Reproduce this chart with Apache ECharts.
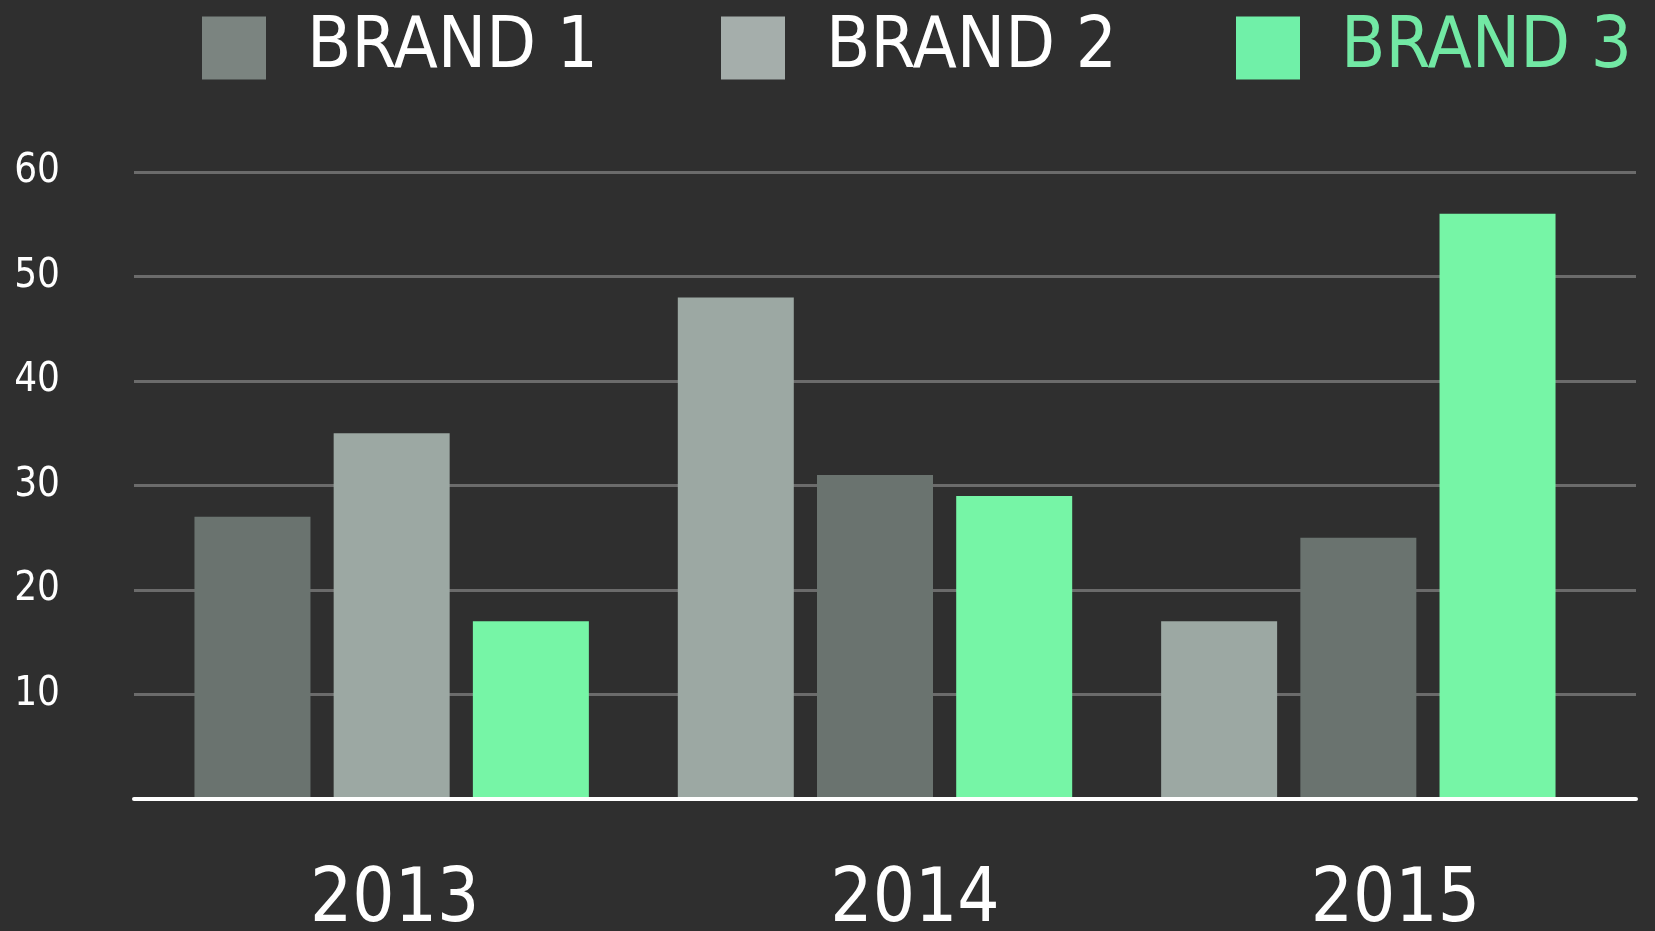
<!DOCTYPE html>
<html>
<head>
<meta charset="utf-8">
<script src="https://cdn.jsdelivr.net/npm/echarts@6/dist/echarts.min.js"></script>
<style>
html,body{margin:0;padding:0;background:#2f2f2f;}
#chart{width:1655px;height:931px;}
</style>
</head>
<body>
<div id="chart"></div>
<script>
// ---- data ----
var years = ['2013', '2014', '2015'];
var brandNames = ['BRAND 1', 'BRAND 2', 'BRAND 3'];
var brand1 = [27, 31, 25];
var brand2 = [35, 48, 17];
var brand3 = [17, 29, 56];
// left-to-right bar order inside each year group (index into brands)
var barOrder = [[0, 1, 2], [1, 0, 2], [1, 0, 2]];
var yTicks = [0, 10, 20, 30, 40, 50, 60];

// ---- styles ----
var barColors = ['#6a736f', '#9ca8a3', '#76f5a6'];
var legendIconColors = ['#7b8480', '#a5aeab', '#70f0a8'];
var legendTextColors = ['#ffffff', '#ffffff', '#72e8a4'];
var yearLabelShift = [6, 80, 74]; // left padding (px) nudging each year label
var fontFam = '"Liberation Sans Narrow", "DejaVu Sans Condensed", "Roboto Condensed", sans-serif';

var brands = [brand1, brand2, brand3];

var posSeries = [0, 1, 2].map(function (pos) {
  return {
    type: 'bar',
    name: 'pos' + pos,
    xAxisIndex: 0,
    yAxisIndex: 0,
    barWidth: 116,
    barGap: '20%',
    data: years.map(function (y, i) {
      var b = barOrder[i][pos];
      return { value: brands[b][i], itemStyle: { color: barColors[b] } };
    })
  };
});

var legendSeries = brandNames.map(function (n, i) {
  return {
    type: 'bar', name: n, xAxisIndex: 1, yAxisIndex: 1, data: [],
    itemStyle: { color: legendIconColors[i] }
  };
});

var legendLefts = [197, 716, 1231];
var legends = brandNames.map(function (n, i) {
  return {
    data: [{ name: n, icon: 'rect' }],
    left: legendLefts[i],
    top: 7,
    itemWidth: 64,
    itemHeight: 63,
    selectedMode: false,
    textStyle: {
      color: legendTextColors[i],
      fontSize: 72,
      fontFamily: fontFam,
      padding: [0, 0, 0, 36]
    }
  };
});

var chart = echarts.init(document.getElementById('chart'));
chart.setOption({
  backgroundColor: '#2f2f2f',
  animation: false,
  legend: legends,
  grid: [
    { left: 150, right: 55, top: 172, bottom: 132, containLabel: false, outerBoundsMode: 'none' },
    { left: 134, right: 19, top: 172, bottom: 132, containLabel: false, outerBoundsMode: 'none' }
  ],
  xAxis: [{
    type: 'category',
    gridIndex: 0,
    data: years.map(function (y, i) {
      return { value: y, textStyle: { padding: [0, 0, 0, yearLabelShift[i]] } };
    }),
    axisTick: { show: false },
    axisLine: { show: false },
    axisLabel: { color: '#ffffff', fontSize: 74, fontFamily: fontFam, margin: 66 },
    splitLine: { show: false }
  }, {
    type: 'category', gridIndex: 1, data: years,
    axisTick: { show: false },
    axisLabel: { show: false },
    axisLine: { show: true, lineStyle: { color: '#ffffff', width: 4 } },
    z: 3
  }],
  yAxis: [{
    type: 'value', gridIndex: 0,
    min: yTicks[0],
    max: yTicks[yTicks.length - 1],
    interval: 10,
    show: false,
    splitLine: { show: false }
  }, {
    type: 'value', gridIndex: 1,
    min: yTicks[0],
    max: yTicks[yTicks.length - 1],
    interval: 10,
    axisLine: { show: false },
    axisTick: { show: false },
    axisLabel: {
      color: '#ffffff', fontSize: 40, fontFamily: fontFam, margin: 74,
      formatter: function (v) { return v === 0 ? '' : String(v); }
    },
    splitLine: { show: true, lineStyle: { color: '#6b6b6b', width: 3 } }
  }],
  series: posSeries.concat(legendSeries)
});
</script>
</body>
</html>
